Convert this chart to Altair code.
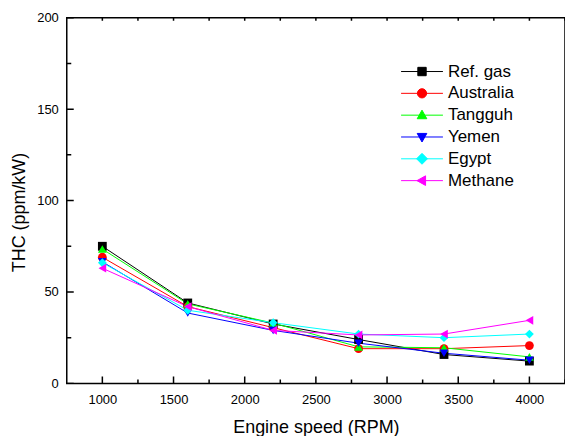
import altair as alt
import pandas as pd

speeds = [1000, 1600, 2200, 2800, 3400, 4000]
series = ["Ref. gas", "Australia", "Tangguh", "Yemen", "Egypt", "Methane"]
ref_gas = [75.0, 44.0, 32.5, 24.0, 15.8, 12.2]
australia = [69.0, 42.0, 30.5, 19.0, 19.0, 20.7]
tangguh = [73.5, 43.5, 33.0, 20.0, 19.5, 14.5]
yemen = [66.5, 38.5, 29.0, 22.0, 16.5, 12.7]
egypt = [66.0, 40.0, 33.2, 27.0, 25.0, 27.0]
methane = [63.0, 42.0, 29.0, 26.5, 27.0, 34.5]

colors = ["#000000", "#ff0000", "#00ff00", "#0000ff", "#00ffff", "#ff00ff"]
shapes = ["square", "circle", "triangle-up", "triangle-down", "diamond", "triangle-left"]
legend_shapes = [
    "M-2,0H2M-0.4,-0.4H0.4V0.4H-0.4Z",
    "M-2,0H2M-0.44,0A0.44,0.44 0 1,0 0.44,0A0.44,0.44 0 1,0 -0.44,0Z",
    "M-2,0H2M0,-0.48L0.46,0.34H-0.46Z",
    "M-2,0H2M0,0.48L0.46,-0.34H-0.46Z",
    "M-2,0H2M0,-0.52L0.52,0L0,0.52L-0.52,0Z",
    "M-2,0H2M-0.48,0L0.34,-0.46V0.46Z",
]

x_major = [1000, 1500, 2000, 2500, 3000, 3500, 4000]
x_minor = [1250, 1750, 2250, 2750, 3250, 3750, 4250]
y_major = [0, 50, 100, 150, 200]
y_minor = [25, 75, 125, 175]

values = [ref_gas, australia, tangguh, yemen, egypt, methane]
rows = []
for name, vals in zip(series, values):
    for s, v in zip(speeds, vals):
        rows.append({"speed": s, "thc": v, "gas": name})
df = pd.DataFrame(rows)

xt_major = pd.DataFrame({"speed": x_major})
xt_minor = pd.DataFrame({"speed": x_minor})
xt_top = pd.DataFrame({"speed": x_major + x_minor})
yt_major = pd.DataFrame({"thc": y_major})
yt_minor = pd.DataFrame({"thc": y_minor})

FONT = "Liberation Sans"
xscale = alt.Scale(domain=[750, 4250], nice=False, zero=False)
yscale = alt.Scale(domain=[0, 200], nice=False)
cscale = alt.Scale(domain=series, range=colors)

x_axis = alt.Axis(
    values=x_major, title="Engine speed (RPM)", orient="bottom",
    ticks=False, tickSize=0, domain=False, grid=False,
    labelPadding=10, labelFontSize=13, labelFont=FONT, labelColor="black",
    titleFont=FONT, titleFontSize=18, titleFontWeight="normal", titleColor="black",
    titlePadding=12, format="d")
y_axis = alt.Axis(
    values=y_major, title="THC (ppm/kW)", orient="left",
    ticks=False, tickSize=0, domain=False, grid=False,
    labelPadding=8.5, labelFontSize=13, labelFont=FONT, labelColor="black",
    titleFont=FONT, titleFontSize=18, titleFontWeight="normal", titleColor="black",
    titlePadding=8, titleY=195, format="d")

X = alt.X("speed:Q", scale=xscale, axis=x_axis)
Y = alt.Y("thc:Q", scale=yscale, axis=y_axis)

lines = alt.Chart(df).mark_line(strokeWidth=1).encode(
    x=X, y=Y,
    color=alt.Color("gas:N", scale=cscale, legend=None),
    detail="gas:N",
)

points = alt.Chart(df).mark_point(filled=True, size=78, opacity=1).encode(
    x=X, y=Y,
    color=alt.Color("gas:N", scale=cscale, legend=None),
    shape=alt.Shape("gas:N", scale=alt.Scale(domain=series, range=shapes), legend=None),
)

def vticks(data, size, ydatum):
    return alt.Chart(data).mark_tick(
        orient="vertical", size=size, thickness=1.5, color="black", clip=True, opacity=1
    ).encode(x=X, y=alt.YDatum(ydatum))

def hticks(data, size, xdatum):
    return alt.Chart(data).mark_tick(
        orient="horizontal", size=size, thickness=1.5, color="black", clip=True, opacity=1
    ).encode(x=alt.XDatum(xdatum), y=Y)

ticks = [
    vticks(xt_major, 14, 0),
    vticks(xt_minor, 8, 0),
    vticks(xt_top, 6, 200),
    hticks(yt_major, 14, 750),
    hticks(yt_minor, 9, 750),
]

leg = alt.Legend(
    title=None, orient="none", legendX=345.5, legendY=43, padding=0,
    symbolSize=441, symbolStrokeWidth=1, labelFont=FONT, labelFontSize=17,
    labelColor="black", labelOffset=15, rowPadding=2.9, symbolOpacity=1,
)
legend_layer = alt.Chart(df).transform_filter("false").mark_point(filled=True).encode(
    x=X, y=Y,
    color=alt.Color("gas:N", scale=cscale, legend=leg),
    stroke=alt.Stroke("gas:N", scale=cscale, legend=leg),
    shape=alt.Shape("gas:N", scale=alt.Scale(domain=series, range=legend_shapes), legend=leg),
)

chart = alt.layer(lines, points, *ticks, legend_layer).resolve_scale(
    color="independent", shape="independent", stroke="independent"
).properties(
    width=500, height=367,
    autosize=alt.AutoSizeParams(type="none"),
    padding={"left": 67, "top": 17, "right": 0, "bottom": 52},
    background="white",
).configure_view(
    stroke="black", strokeWidth=1.5
)

chart.save("out.html", embed_options={"renderer": "svg", "actions": False})
